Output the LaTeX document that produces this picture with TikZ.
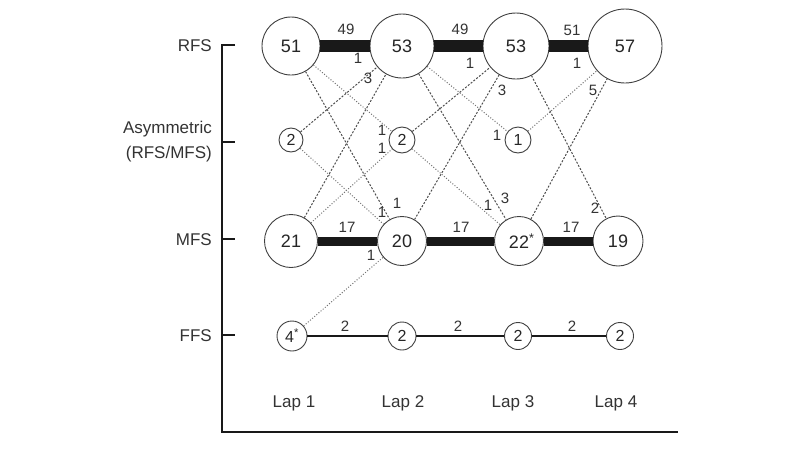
\documentclass[tikz,border=0pt]{standalone}
\usepackage{fontspec}
\setmainfont{Liberation Sans}
\tikzset{
  lapbig/.style={circle,draw=black!75,line width=0.9pt,inner sep=0pt,fill=white,text=black!85,font=\fontsize{18}{22}\selectfont},
  lapsmall/.style={circle,draw=black!75,line width=0.9pt,inner sep=0pt,fill=white,text=black!85,font=\fontsize{16}{20}\selectfont},
  count/.style={inner sep=0pt,text=black!80,font=\fontsize{15}{18}\selectfont},
  rfsbar/.style={line width=12pt,black!90},
  mfsbar/.style={line width=9pt,black!90},
  ffsbar/.style={line width=1.3pt,black!90},
  change/.style={dash pattern=on 2pt off 1.6pt,line width=1pt,black!70},
  changelight/.style={dash pattern=on 1pt off 1.8pt,line width=1pt,black!55},
  axis/.style={line width=1.5pt,black!90},
  side/.style={anchor=east,align=right,inner sep=0pt,text=black!80,font=\fontsize{17}{25}\selectfont}
}
\begin{document}
\begin{tikzpicture}[x=1pt,y=-1pt]
  \useasboundingbox (0,0) rectangle (800,450);
  % axis
  \draw[axis] (235,45) -- (222,45) -- (222,432) -- (678,432);
  \foreach \y in {142,239,335}
    \draw[axis] (222,\y) -- (235,\y);
  \node[side] (tRFS) at (212,46) {RFS};
  \node[side] (tASY) at (212,142) {Asymmetric\\(RFS/MFS)};
  \node[side] (tMFS) at (212,240) {MFS};
  \node[side] (tFFS) at (212,336) {FFS};
  \foreach \x/\n in {294/1,403/2,513/3,616/4}
    \node[side,anchor=center] (lap\n) at (\x,403) {Lap \n};
  % laps
  \node[lapbig,minimum size=58pt] (r1) at (291,46) {51};
  \node[lapbig,minimum size=64pt] (r2) at (402,46) {53};
  \node[lapbig,minimum size=66pt] (r3) at (516,46) {53};
  \node[lapbig,minimum size=74pt] (r4) at (625,46) {57};
  \node[lapsmall,minimum size=24pt] (a1) at (291,140) {2};
  \node[lapsmall,minimum size=26pt] (a2) at (402,140) {2};
  \node[lapsmall,minimum size=26pt] (a3) at (518,140) {1};
  \node[lapbig,minimum size=53pt] (m1) at (291,241) {21};
  \node[lapbig,minimum size=49pt] (m2) at (402,241) {20};
  \node[lapbig,minimum size=49pt] (m3) at (519,241) {22\rlap{\textsuperscript{*}}};
  \node[lapbig,minimum size=50pt] (m4) at (618,241) {19};
  \node[lapsmall,minimum size=30pt] (f1) at (292,336) {4\textsuperscript{*}};
  \node[lapsmall,minimum size=28pt] (f2) at (402,336) {2};
  \node[lapsmall,minimum size=27pt] (f3) at (518,336) {2};
  \node[lapsmall,minimum size=27pt] (f4) at (620,336) {2};
  % same strike
  \draw[rfsbar] (r1) -- (r2) (r2) -- (r3) (r3) -- (r4);
  \draw[mfsbar] (m1) -- (m2) (m2) -- (m3) (m3) -- (m4);
  \draw[ffsbar] (f1) -- (f2) (f2) -- (f3) (f3) -- (f4);
  \foreach \x/\y/\v [count=\i] in {346/29/49,460/29/49,572/30/51,
      347/227/17,461/227/17,571/227/17,345/326/2,458/326/2,572/326/2}
    \node[count] (k\i) at (\x,\y) {\v};
  % changes of strike
  \draw[change] (r1) -- (m2);
  \draw[change] (m1) -- (r2);
  \draw[change] (r2) -- (m3);
  \draw[change] (m2) -- (r3);
  \draw[change] (r3) -- (m4);
  \draw[change] (m3) -- (r4);
  \draw[change] (a1) -- (r2);
  \draw[change] (a2) -- (r3);
  \draw[changelight] (r1) -- (a2);
  \draw[changelight] (m1) -- (a2);
  \draw[changelight] (a1) -- (m2);
  \draw[changelight] (f1) -- (m2);
  \draw[changelight] (r2) -- (a3);
  \draw[changelight] (a2) -- (m3);
  \draw[changelight] (a3) -- (r4);
  \foreach \x/\y/\v [count=\i] in {358/58/1,368/78/3,382/130/1,382/148/1,
      382/212/1,397/203/1,371/255/1,470/63/1,502/90/3,497/135/1,
      488/205/1,505/198/3,577/63/1,593/90/5,595/208/2}
    \node[count] (n\i) at (\x,\y) {\v};
\end{tikzpicture}
\end{document}
